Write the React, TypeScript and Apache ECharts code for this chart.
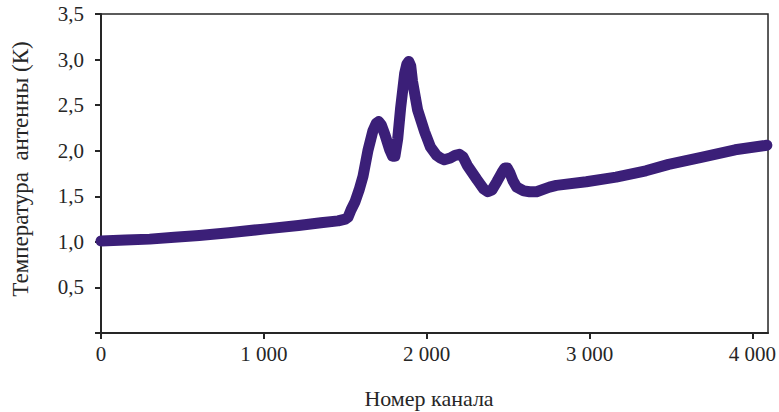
import React, { useEffect, useRef } from "react";
import * as echarts from "echarts";

// Channel numbers and antenna temperature (K) along the spectrum
const channels = [
  0, 150, 299, 450, 603, 786, 999, 1213, 1350, 1456, 1500, 1517, 1535, 1560,
  1585, 1609, 1639, 1670, 1690, 1705, 1722, 1743, 1773, 1790, 1805, 1822, 1840,
  1865, 1878, 1890, 1902, 1913, 1944, 1987, 2023, 2060, 2084, 2108, 2145, 2175,
  2200, 2224, 2249, 2310, 2350, 2375, 2401, 2431, 2462, 2480, 2495, 2510, 2530,
  2553, 2596, 2632, 2675, 2754, 2797, 2980, 3163, 3346, 3486, 3693, 3894, 4089,
];
const temperature = [
  1.01, 1.02, 1.03, 1.05, 1.07, 1.1, 1.14, 1.18, 1.21, 1.23, 1.25, 1.27, 1.35,
  1.44, 1.57, 1.72, 2.0, 2.22, 2.3, 2.32, 2.28, 2.18, 2.01, 1.94, 1.94, 2.13,
  2.47, 2.85, 2.95, 2.98, 2.93, 2.76, 2.45, 2.21, 2.04, 1.95, 1.92, 1.9, 1.92,
  1.95, 1.96, 1.93, 1.84, 1.68, 1.58, 1.55, 1.57, 1.66, 1.76, 1.81, 1.81, 1.76,
  1.67, 1.6, 1.56, 1.55, 1.55, 1.6, 1.62, 1.66, 1.71, 1.78, 1.85, 1.93, 2.01,
  2.06,
];

const xTicks = [0, 1000, 2000, 3000, 4000];
const yTicks = [0, 0.5, 1, 1.5, 2, 2.5, 3, 3.5];

const xTitle = "Номер канала";
const yTitle = "Температура  антенны (К)";

const FONT = "Liberation Serif";
const INK = "#262626";

export default function App() {
  const ref = useRef<HTMLDivElement>(null);

  useEffect(() => {
    if (!ref.current) return;
    const chart = echarts.init(ref.current, undefined, { renderer: "svg" });
    const fmtThousands = (v: number) =>
      v >= 1000 ? `${Math.floor(v / 1000)} ${String(v % 1000).padStart(3, "0")}` : String(v);

    chart.setOption({
      animation: false,
      grid: {
        left: 101,
        right: 7,
        top: 14,
        bottom: 79,
        show: true,
        borderColor: INK,
        borderWidth: 1.5,
      },
      xAxis: {
        type: "value",
        min: 0,
        max: 4096,
        splitLine: { show: false },
        axisLine: { lineStyle: { color: INK, width: 2 } },
        axisTick: {
          length: 6,
          lineStyle: { color: INK, width: 2 },
          customValues: xTicks,
        },
        axisLabel: {
          customValues: xTicks,
          formatter: (v: number) => fmtThousands(v),
          color: INK,
          fontFamily: FONT,
          fontSize: 21,
          margin: 10,
        },
      },
      yAxis: {
        type: "value",
        min: 0,
        max: 3.5,
        interval: 0.5,
        splitLine: { show: false },
        axisLine: { lineStyle: { color: INK, width: 2 } },
        axisTick: {
          length: 6,
          lineStyle: { color: INK, width: 2 },
          customValues: yTicks,
        },
        axisLabel: {
          customValues: yTicks.filter((v) => v > 0),
          formatter: (v: number) => v.toFixed(1).replace(".", ","),
          color: INK,
          fontFamily: FONT,
          fontSize: 21,
          margin: 17,
        },
      },
      graphic: [
        {
          type: "text",
          x: 429,
          y: 398,
          style: {
            text: xTitle,
            fill: INK,
            font: `22px "${FONT}"`,
            textAlign: "center",
            textVerticalAlign: "middle",
          },
        },
        {
          type: "text",
          x: 20,
          y: 169,
          rotation: Math.PI / 2,
          style: {
            text: yTitle,
            fill: INK,
            font: `23px "${FONT}"`,
            textAlign: "center",
            textVerticalAlign: "middle",
          },
        },
      ],
      series: [
        {
          type: "line",
          data: channels.map((c, i) => [c, temperature[i]]),
          showSymbol: false,
          lineStyle: { color: "#3b1f78", width: 11, join: "round", cap: "round" },
        },
      ],
    });
    return () => chart.dispose();
  }, []);

  return (
    <div
      ref={ref}
      style={{ position: "fixed", left: 0, top: 0, width: 779, height: 412, background: "#fff" }}
    />
  );
}
